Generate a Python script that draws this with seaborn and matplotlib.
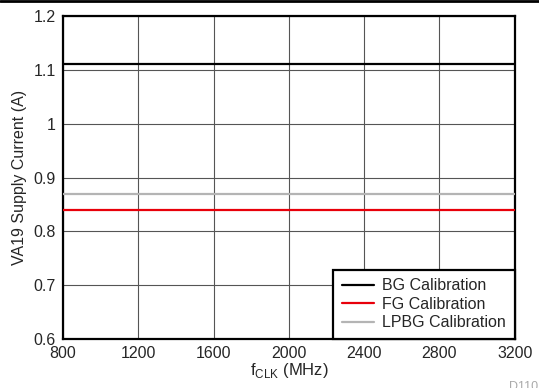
import matplotlib
matplotlib.use("Agg")
from matplotlib import pyplot as plt
import seaborn as sns
import pandas as pd

fclk = [800, 1200, 1600, 2000, 2400, 2800, 3200]
bg_cal = [1.11, 1.11, 1.11, 1.11, 1.11, 1.11, 1.11]
fg_cal = [0.84, 0.84, 0.84, 0.84, 0.84, 0.84, 0.84]
lpbg_cal = [0.87, 0.87, 0.87, 0.87, 0.87, 0.87, 0.87]
series_names = ["BG Calibration", "FG Calibration", "LPBG Calibration"]
xticks = [800, 1200, 1600, 2000, 2400, 2800, 3200]
yticks = [0.6, 0.7, 0.8, 0.9, 1.0, 1.1, 1.2]

df = pd.DataFrame({
    "fclk": fclk * 3,
    "current": bg_cal + fg_cal + lpbg_cal,
    "series": [series_names[0]] * len(fclk) + [series_names[1]] * len(fclk) + [series_names[2]] * len(fclk),
})

sns.set_style("white")
plt.rcParams['font.family'] = ['Liberation Sans', 'DejaVu Sans']

fig = plt.figure(figsize=(5.39, 3.88), dpi=100)
ax = fig.add_axes([0.117, 0.126, 0.838, 0.833])

palette = {series_names[0]: "black", series_names[1]: "#e8000b", series_names[2]: "#b4b4b4"}
sns.lineplot(data=df, x="fclk", y="current", hue="series", palette=palette,
             linewidth=1.6, ax=ax, zorder=3)

ax.set_xlim(800, 3200)
ax.set_ylim(0.6, 1.2)
ax.set_xticks(xticks)
ax.set_yticks(yticks)
ax.set_yticklabels(["0.6", "0.7", "0.8", "0.9", "1", "1.1", "1.2"])
ax.grid(True, color="#555555", linewidth=0.8)
ax.tick_params(labelsize=11.5, length=0, pad=5)
for s in ax.spines.values():
    s.set_linewidth(1.6)
    s.set_color("black")

ax.set_xlabel(r"f$_{\mathregular{CLK}}$ (MHz)", fontsize=12, labelpad=0)
ax.set_ylabel("VA19 Supply Current (A)", fontsize=11.5, labelpad=5)

leg = ax.legend(loc="lower right", fontsize=11.5, frameon=True, fancybox=False,
                edgecolor="black", framealpha=1, borderaxespad=0, handlelength=2.0,
                labelspacing=0.22, borderpad=0.55, handletextpad=0.5)
leg.get_frame().set_linewidth(1.6)
leg.set_zorder(5)

fig.add_artist(plt.Line2D([0, 1], [0.997, 0.997], color="black", linewidth=2.0))
fig.text(0.945, -0.012, "D110", fontsize=9, color="#aaaaaa", ha="left", va="bottom")

fig.savefig("out.png", dpi=100)
